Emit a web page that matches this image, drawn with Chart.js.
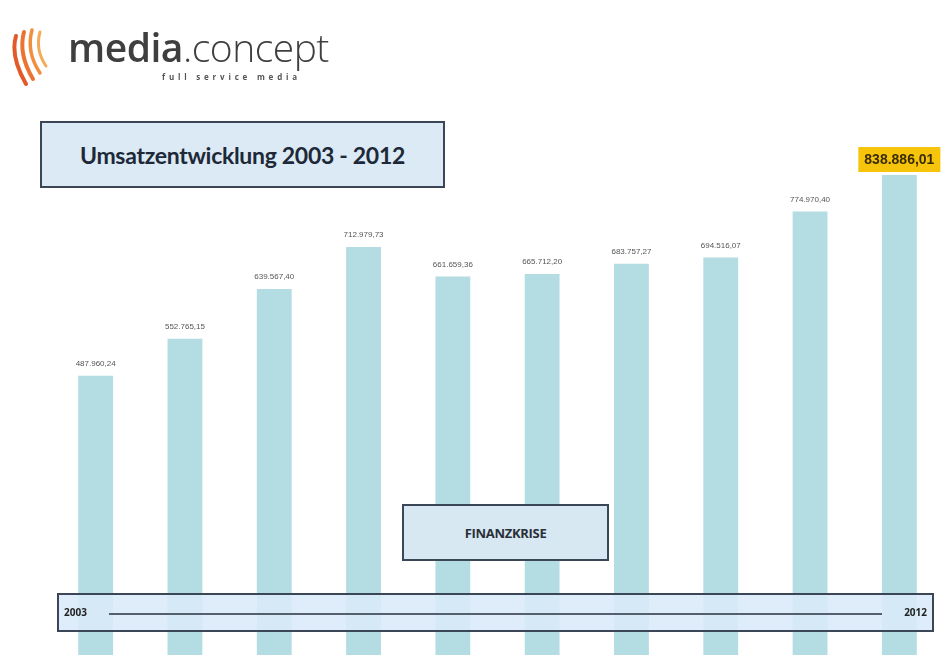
<!DOCTYPE html>
<html lang="de">
<head>
<meta charset="utf-8">
<title>Umsatzentwicklung 2003 - 2012</title>
<script src="https://cdn.jsdelivr.net/npm/chart.js@4/dist/chart.umd.min.js"></script>
<style>
  html, body { margin: 0; padding: 0; background: #fff; }
  #wrap { position: relative; width: 944px; height: 655px; overflow: hidden; font-family: "Open Sans", "Liberation Sans", sans-serif; }
  #chart { position: absolute; left: 0; top: 0; }
  .logo { position: absolute; left: 8px; top: 20px; width: 360px; height: 74px; }
  .logo-text { position: absolute; left: 60px; top: 0; font-family: "Open Sans", sans-serif; font-size: 39px; color: #3f3f3f; letter-spacing: -0.5px; }
  .logo-text b { font-weight: 600; }
  .logo-text span { font-weight: 300; }
  .logo-sub { position: absolute; left: 154px; top: 51px; font-size: 8px; font-weight: 700; color: #555; letter-spacing: 3.8px; }
  .box { position: absolute; box-sizing: border-box; border: 2px solid #3b4657; display: flex; align-items: center; }
  .title-box { left: 40px; top: 121px; width: 405px; height: 67px; background: #dbeaf4; justify-content: center;
               font-family: Lato, "Open Sans", sans-serif; font-weight: 700; font-size: 23px; color: #1d2838; letter-spacing: -0.3px; }
  .crisis-box { left: 402px; top: 504px; width: 207px; height: 57px; background: #d8e8f2; justify-content: center;
                font-weight: 700; font-size: 13px; color: #2a2f38; letter-spacing: -0.3px; }
  .time-box { left: 57px; top: 593px; width: 877px; height: 39px; background: rgba(218, 234, 248, 0.88); }
  .time-box .yr { position: absolute; top: 10px; font-weight: 700; font-size: 10px; color: #222; }
  .time-box .line { position: absolute; left: 50px; right: 50px; top: 18px; height: 2px; background: #55606c; }
</style>
</head>
<body>
<div id="wrap">
  <canvas id="chart" width="944" height="655"></canvas>

  <div class="logo">
    <svg width="56" height="70" viewBox="0 0 56 70">
      <g fill="none" stroke-linecap="round">
        <path d="M8 16 Q2 36 18 64" stroke="#e35a2a" stroke-width="4"/>
        <path d="M16 12 Q10 34 25 59" stroke="#ec7433" stroke-width="4"/>
        <path d="M24 10 Q18 32 32 53" stroke="#f18f40" stroke-width="3.5"/>
        <path d="M32 12 Q27 30 38 46" stroke="#f5aa58" stroke-width="3"/>
      </g>
    </svg>
    <div class="logo-text"><b>media</b><span>.concept</span></div>
    <div class="logo-sub">full service media</div>
  </div>

  <div class="box title-box">Umsatzentwicklung 2003 - 2012</div>
  <div class="box crisis-box">FINANZKRISE</div>
  <div class="box time-box">
    <span class="yr" style="left:5px">2003</span>
    <div class="line"></div>
    <span class="yr" style="right:5px">2012</span>
  </div>
</div>

<script>
// Umsatz je Jahr (EUR)
const years   = ['2003', '2004', '2005', '2006', '2007', '2008', '2009', '2010', '2011', '2012'];
const revenue = [487960.24, 552765.15, 639567.40, 712979.73, 661659.36, 665712.20, 683757.27, 694516.07, 774970.40, 838886.01];

const BAR_COLOR = '#b3dce3';

// 1234567.8 -> "1.234.567,80"
function formatEUR(v) {
  return v.toLocaleString('de-DE', { minimumFractionDigits: 2, maximumFractionDigits: 2 });
}

// ── value labels above the bars ───────────────────────────────
const valueLabels = {
  id: 'valueLabels',
  afterDatasetsDraw(chart) {
    const ctx  = chart.ctx;
    const meta = chart.getDatasetMeta(0);
    const last = meta.data.length - 1;
    ctx.save();
    ctx.textAlign = 'center';
    ctx.textBaseline = 'middle';
    meta.data.forEach((bar, i) => {
      const text = formatEUR(revenue[i]);
      if (i === last) {
        // highlighted current year
        ctx.font = 'bold 14px "Liberation Sans", Arial, sans-serif';
        const w = ctx.measureText(text).width + 12;
        ctx.fillStyle = '#f6c40a';
        ctx.fillRect(bar.x - w / 2, bar.y - 28, w, 25);
        ctx.fillStyle = '#3a2c00';
        ctx.fillText(text, bar.x, bar.y - 15);
      } else {
        ctx.font = '8px "Liberation Sans", Arial, sans-serif';
        ctx.fillStyle = '#555';
        ctx.fillText(text, bar.x, bar.y - 12);
      }
    });
    ctx.restore();
  }
};

new Chart(document.getElementById('chart').getContext('2d'), {
  type: 'bar',
  data: {
    labels: years,
    datasets: [{
      data: revenue,
      backgroundColor: BAR_COLOR,
      borderWidth: 0,
      categoryPercentage: 1,
      barPercentage: 0.39
    }]
  },
  options: {
    responsive: false,
    animation: false,
    layout: { padding: { left: 51, right: 0, top: 100, bottom: 0 } },
    plugins: { legend: { display: false }, tooltip: { enabled: false } },
    scales: {
      x: { display: false },
      y: { display: false, min: 0, max: 970000 }
    }
  },
  plugins: [valueLabels]
});
</script>
</body>
</html>
